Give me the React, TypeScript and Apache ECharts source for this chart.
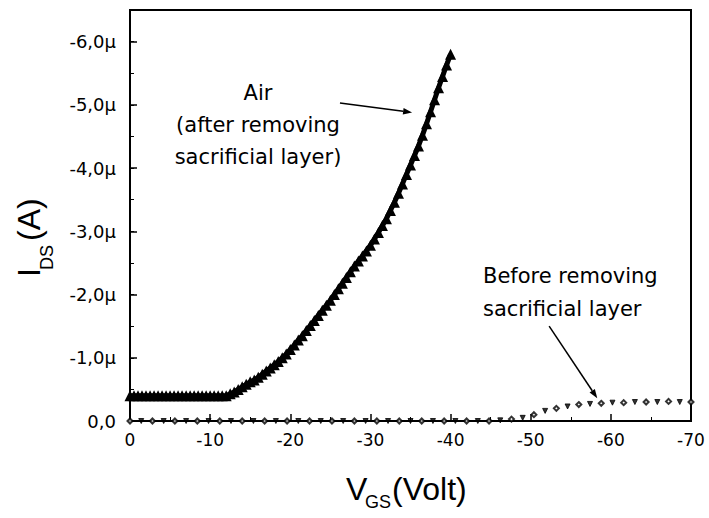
import React, { useEffect, useRef } from "react";
import * as echarts from "echarts";

// Air (after removing sacrificial layer): V_GS (V) and I_DS (µA)
const airVgs = [
  0, -0.5, -1, -1.5, -2, -2.5, -3, -3.5, -4, -4.5, -5, -5.5, -6, -6.5, -7, -7.5, -8, -8.5, -9, -9.5,
  -10, -10.5, -11, -11.5, -12, -12.5, -13, -13.5, -14, -14.5, -15, -15.5, -16, -16.5, -17, -17.5,
  -18, -18.5, -19, -19.5, -20, -20.5, -21, -21.5, -22, -22.5, -23, -23.5, -24, -24.5, -25, -25.5,
  -26, -26.5, -27, -27.5, -28, -28.5, -29, -29.5, -30, -30.5, -31, -31.5, -32, -32.5, -33, -33.5,
  -34, -34.5, -35, -35.5, -36, -36.5, -37, -37.5, -38, -38.5, -39, -39.5, -40,
];
const airIds = [
  -0.4, -0.4, -0.4, -0.4, -0.4, -0.4, -0.4, -0.4, -0.4, -0.4, -0.4, -0.4, -0.4, -0.4, -0.4, -0.4,
  -0.4, -0.4, -0.4, -0.4, -0.4, -0.4, -0.4, -0.4, -0.4, -0.43, -0.46, -0.5, -0.54, -0.58, -0.62,
  -0.65, -0.69, -0.74, -0.79, -0.84, -0.89, -0.94, -1.0, -1.06, -1.13, -1.2, -1.28, -1.35, -1.43,
  -1.51, -1.59, -1.67, -1.75, -1.83, -1.91, -2.0, -2.09, -2.18, -2.27, -2.36, -2.45, -2.53, -2.61,
  -2.69, -2.78, -2.88, -2.98, -3.09, -3.2, -3.33, -3.46, -3.6, -3.75, -3.9, -4.05, -4.2, -4.35,
  -4.52, -4.7, -4.89, -5.08, -5.27, -5.45, -5.63, -5.8,
];

// Before removing sacrificial layer
const beforeVgs = [
  0, -1.4, -2.8, -4.2, -5.6, -7, -8.4, -9.8, -11.2, -12.6, -14, -15.4, -16.8, -18.2, -19.6, -21,
  -22.4, -23.8, -25.2, -26.6, -28, -29.4, -30.8, -32.2, -33.6, -35, -36.4, -37.8, -39.2, -40.6, -42,
  -43.4, -44.8, -46.2, -47.6, -49, -50.4, -51.8, -53.2, -54.6, -56, -57.4, -58.8, -60.2, -61.6, -63,
  -64.4, -65.8, -67.2, -68.6, -70,
];
const beforeIds = [
  0, 0, 0, 0, 0, 0, 0, 0, 0, 0, 0, 0, 0, 0, 0, 0, 0, 0, 0, 0, 0, 0, 0, 0, 0, 0, 0, 0, 0, 0, 0, 0, 0,
  -0.01, -0.03, -0.05, -0.1, -0.16, -0.2, -0.23, -0.26, -0.27, -0.28, -0.29, -0.29, -0.3, -0.3, -0.3,
  -0.31, -0.3, -0.3,
];

const airLabel = ["Air", "(after removing", "sacrificial layer)"];
const beforeLabel = ["Before removing", "sacrificial layer"];

const TICK_FONT = "DejaVu Sans";
const NOTE_FONT = "DejaVu Sans";
const TITLE_FONT = "Liberation Sans";

function fmtY(v: number): string {
  if (Math.abs(v - Math.round(v)) > 1e-6) return "";
  if (v === 0) return "0,0";
  return v.toFixed(1).replace(".", ",") + "\u03bc";
}

export default function App() {
  const ref = useRef<HTMLDivElement>(null);
  useEffect(() => {
    document.body.style.margin = "0";
    const chart = echarts.init(ref.current!, null, { renderer: "svg" });
    const option: any = {
      animation: false,
      backgroundColor: "#fff",
      grid: {
        left: 130,
        right: 18,
        top: 10,
        bottom: 97,
        show: true,
        borderColor: "#000",
        borderWidth: 2,
      },
      xAxis: {
        type: "value",
        min: -70,
        max: 0,
        interval: 10,
        inverse: true,
        axisLine: { show: true, onZero: false, lineStyle: { color: "#000", width: 2 } },
        axisTick: { show: true, inside: true, length: 7, lineStyle: { color: "#000", width: 1.5 } },
        minorTick: { show: true, splitNumber: 2, length: 4, lineStyle: { color: "#000", width: 1 } },
        splitLine: { show: false },
        axisLabel: {
          color: "#000",
          fontFamily: TICK_FONT,
          fontSize: 17,
          margin: 10,
          formatter: (v: number) => String(v),
        },
      },
      yAxis: [
        {
          type: "value",
          min: -6.5,
          max: 0,
          splitNumber: 6,
          inverse: true,
          position: "left",
          axisLine: { show: true, onZero: false, lineStyle: { color: "#000", width: 2 } },
          axisTick: { show: true, inside: true, length: 7, lineStyle: { color: "#000", width: 1.5 } },
          splitLine: { show: false },
          axisLabel: {
            color: "#000",
            fontFamily: TICK_FONT,
            fontSize: 18,
            margin: 14,
            showMinLabel: false,
            formatter: fmtY,
          },
        },
        {
          type: "value",
          min: -6.5,
          max: 0,
          interval: 0.5,
          inverse: true,
          position: "left",
          axisLine: { show: false },
          axisTick: { show: true, inside: true, length: 4, lineStyle: { color: "#000", width: 1 } },
          splitLine: { show: false },
          axisLabel: { show: false },
        },
      ],
      series: [
        {
          name: "Air",
          type: "line",
          xAxisIndex: 0,
          yAxisIndex: 0,
          clip: false,
          symbol: "triangle",
          symbolSize: 11,
          showAllSymbol: true,
          lineStyle: { color: "#000", width: 5 },
          itemStyle: { color: "#000" },
          data: airVgs.map((v, i) => [v, airIds[i]]),
        },
        {
          name: "Before",
          type: "scatter",
          xAxisIndex: 0,
          yAxisIndex: 0,
          clip: false,
          itemStyle: { color: "#000", borderColor: "#000" },
          data: beforeVgs.map((v, i) => ({
            value: [v, beforeIds[i]],
            symbol: i % 2 ? "triangle" : "emptyDiamond",
            symbolRotate: i % 2 ? 180 : 0,
            symbolSize: 5,
          })),
        },
      ],
    };
    chart.setOption(option);

    const toPx = (p: number[]) =>
      chart.convertToPixel({ xAxisIndex: 0, yAxisIndex: 0 }, p) as number[];
    const arrow = (from: number[], to: number[]) => {
      const a = toPx(from);
      const b = toPx(to);
      const dx = b[0] - a[0];
      const dy = b[1] - a[1];
      const len = Math.sqrt(dx * dx + dy * dy);
      const ux = dx / len;
      const uy = dy / len;
      const hl = 9;
      const hw = 3.2;
      const bx = b[0] - ux * hl;
      const by = b[1] - uy * hl;
      return [
        {
          type: "line",
          shape: { x1: a[0], y1: a[1], x2: bx, y2: by },
          style: { stroke: "#000", lineWidth: 1.5 },
        },
        {
          type: "polygon",
          shape: {
            points: [
              [b[0], b[1]],
              [bx - uy * hw, by + ux * hw],
              [bx + uy * hw, by - ux * hw],
            ],
          },
          style: { fill: "#000" },
        },
      ];
    };
    const txt = (text: string, x: number, y: number, font: string, size: number, align: string, extra: any = {}) => ({
      type: "text",
      x,
      y,
      ...extra,
      style: {
        text,
        fontFamily: font,
        fontSize: size,
        fill: "#000",
        align,
        textAlign: align,
        verticalAlign: "middle",
        textVerticalAlign: "middle",
      },
    });

    const graphic: any[] = [
      ...arrow([-26.2, -5.03], [-35.2, -4.88]),
      ...arrow([-52.3, -1.5], [-58.3, -0.36]),
      {
        type: "text",
        x: 258,
        y: 125,
        style: {
          text: airLabel.join("\n"),
          fontFamily: NOTE_FONT,
          fontSize: 21,
          lineHeight: 32,
          fill: "#000",
          align: "center",
          textAlign: "center",
          verticalAlign: "middle",
          textVerticalAlign: "middle",
        },
      },
      {
        type: "text",
        x: 483,
        y: 292.5,
        style: {
          text: beforeLabel.join("\n"),
          fontFamily: NOTE_FONT,
          fontSize: 21,
          lineHeight: 33,
          fill: "#000",
          align: "left",
          textAlign: "left",
          verticalAlign: "middle",
          textVerticalAlign: "middle",
        },
      },
      // x axis title
      txt("V", 346, 489, TITLE_FONT, 32, "left"),
      txt("GS", 365, 501.5, TITLE_FONT, 18, "left"),
      txt("(Volt)", 392, 489, TITLE_FONT, 32, "left"),
      // y axis title (rotated)
      txt("I", 28.5, 277, TITLE_FONT, 32, "left", { rotation: Math.PI / 2 }),
      txt("DS", 46.5, 270, TITLE_FONT, 18, "left", { rotation: Math.PI / 2 }),
      txt("(A)", 28.5, 241, TITLE_FONT, 32, "left", { rotation: Math.PI / 2 }),
    ];
    chart.setOption({ graphic });

    return () => chart.dispose();
  }, []);
  return <div ref={ref} style={{ width: 709, height: 518 }} />;
}
